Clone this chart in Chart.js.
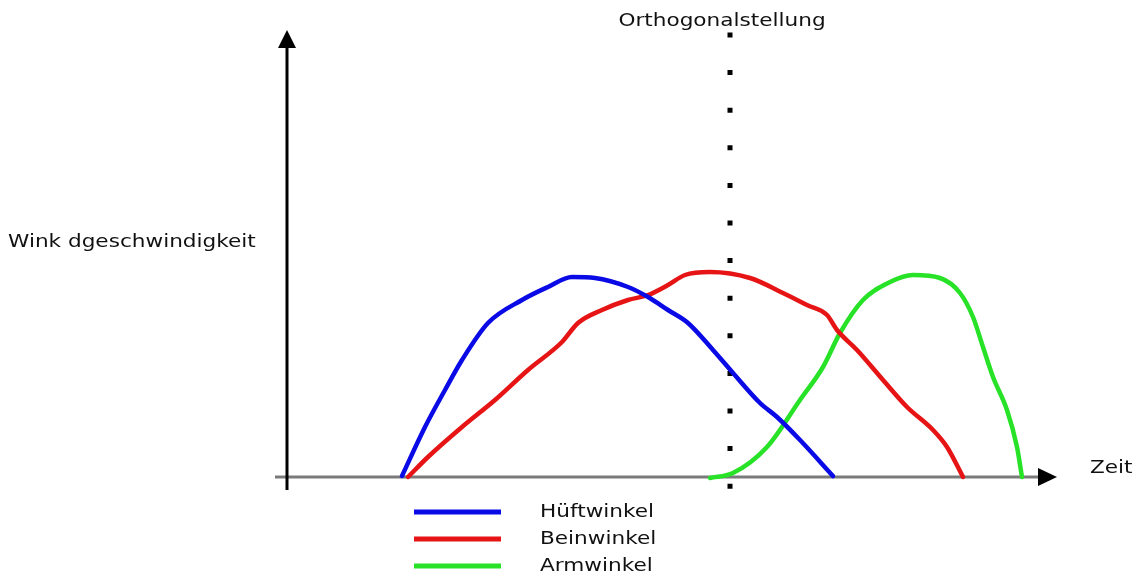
<!DOCTYPE html>
<html>
<head>
<meta charset="utf-8">
<script src="https://cdn.jsdelivr.net/npm/chart.js@4/dist/chart.umd.min.js"></script>
<style>
  html,body{margin:0;padding:0;background:#fff;}
  #c{display:block;}
</style>
</head>
<body>
<canvas id="c" width="1134" height="580"></canvas>
<script>
const SERIES_LABELS = ['Hüftwinkel', 'Beinwinkel', 'Armwinkel'];

const HIP_T = [11.5, 13.8, 15.8, 17.5, 20.1, 23.5, 26.1, 28.5, 30.8, 34.1, 36.1, 38.1, 40.1, 42.6, 44.6, 47.3, 49.0, 51.3, 54.6];
const HIP_V = [0.1, 5.0, 8.7, 11.7, 15.4, 17.7, 19.0, 20.0, 19.9, 19.0, 18.0, 16.7, 15.4, 12.7, 10.4, 7.4, 6.0, 3.7, 0.1];

const LEG_T = [12.1, 14.1, 17.5, 20.8, 24.1, 27.5, 29.1, 31.5, 34.1, 36.1, 38.1, 39.8, 42.3, 46.3, 49.6, 52.0, 54.0, 55.0, 57.0, 59.6, 62.0, 64.6, 66.0, 67.6];
const LEG_V = [0, 2.0, 5.0, 7.7, 10.7, 13.5, 15.4, 16.7, 17.7, 18.2, 19.2, 20.2, 20.5, 19.9, 18.4, 17.2, 16.2, 14.7, 12.7, 9.7, 7.0, 4.7, 3.0, 0];

const ARM_T = [42.3, 44.6, 48.0, 51.3, 53.6, 55.3, 57.6, 60.3, 62.6, 65.3, 67.3, 68.6, 69.6, 70.6, 72.0, 73.0, 73.5];
const ARM_V = [-0.1, 0.4, 3.0, 7.7, 11.0, 14.4, 17.7, 19.5, 20.2, 19.9, 18.4, 16.0, 13.0, 10.0, 6.7, 3.0, 0];

const ORTHO_T = 44.3;   // Orthogonalstellung

const COLORS = ['#0a0ae6', '#e61414', '#28e228'];

function pts(ts, vs){ return ts.map((t,i)=>({x:t, y:vs[i]})); }

const FONT = '"DejaVu Sans", sans-serif';

// Text im Original ist horizontal etwas gestreckt
function wideText(ctx, txt, x, y, align){
  const sx = 1.2;
  ctx.save();
  ctx.translate(x, y);
  ctx.scale(sx, 1);
  ctx.textAlign = align;
  ctx.fillText(txt, 0, 0);
  ctx.restore();
}

// Achsen, Pfeile, Beschriftungen und Legende
const deco = {
  id:'deco',
  beforeDatasetsDraw(chart){
    const {ctx, scales:{x, y}} = chart;
    const x0 = x.getPixelForValue(0), y0 = y.getPixelForValue(0);
    ctx.save();
    // Zeitachse (grau) + Pfeil
    ctx.strokeStyle = '#7a7a7a'; ctx.lineWidth = 3;
    ctx.beginPath();
    ctx.moveTo(x.getPixelForValue(-1.2), y0);
    ctx.lineTo(x.getPixelForValue(75.5), y0);
    ctx.stroke();
    ctx.fillStyle = '#000';
    const ax = x.getPixelForValue(77);
    ctx.beginPath();
    ctx.moveTo(ax, y0); ctx.lineTo(ax-19, y0-9); ctx.lineTo(ax-19, y0+9); ctx.closePath(); ctx.fill();
    // y-Achse + Pfeil
    ctx.strokeStyle = '#000'; ctx.lineWidth = 3;
    ctx.beginPath();
    ctx.moveTo(x0, y.getPixelForValue(-1.3));
    ctx.lineTo(x0, y.getPixelForValue(43));
    ctx.stroke();
    const ay = y.getPixelForValue(44.7);
    ctx.beginPath();
    ctx.moveTo(x0, ay); ctx.lineTo(x0-9, ay+18); ctx.lineTo(x0+9, ay+18); ctx.closePath(); ctx.fill();
    // Orthogonalstellung (gepunktet)
    const ox = x.getPixelForValue(ORTHO_T);
    ctx.lineWidth = 5; ctx.lineCap = 'butt';
    ctx.setLineDash([5, 32.6]);
    ctx.beginPath();
    ctx.moveTo(ox, y.getPixelForValue(44.45));
    ctx.lineTo(ox, y.getPixelForValue(-1.3));
    ctx.stroke();
    ctx.setLineDash([]);
    ctx.restore();
  },
  afterDatasetsDraw(chart){
    const {ctx, scales:{x, y}} = chart;
    ctx.save();
    ctx.fillStyle = '#111';
    ctx.font = '18px ' + FONT;
    ctx.textBaseline = 'middle';
    wideText(ctx, 'Orthogonalstellung', x.getPixelForValue(ORTHO_T) - 8, 21, 'center');
    wideText(ctx, 'Wink dgeschwindigkeit', 8, y.getPixelForValue(23.5), 'left');
    wideText(ctx, 'Zeit', 1090, y.getPixelForValue(0.9), 'left');
    // Legende
    const rows = [512, 539, 566];
    chart.data.datasets.forEach((ds, i)=>{
      ctx.strokeStyle = ds.borderColor; ctx.lineWidth = 5;
      ctx.beginPath(); ctx.moveTo(414, rows[i]); ctx.lineTo(501, rows[i]); ctx.stroke();
      wideText(ctx, ds.label, 540, rows[i], 'left');
    });
    ctx.restore();
  }
};

new Chart(document.getElementById('c'), {
  type:'line',
  data:{datasets:[
    {label:SERIES_LABELS[0], data:pts(HIP_T, HIP_V), borderColor:COLORS[0]},
    {label:SERIES_LABELS[1], data:pts(LEG_T, LEG_V), borderColor:COLORS[1]},
    {label:SERIES_LABELS[2], data:pts(ARM_T, ARM_V), borderColor:COLORS[2]}
  ]},
  options:{
    responsive:false, animation:false,
    layout:{padding:0},
    elements:{line:{borderWidth:4.5, cubicInterpolationMode:'monotone', fill:false, borderCapStyle:'round', borderJoinStyle:'round'}, point:{radius:0}},
    plugins:{legend:{display:false}, tooltip:{enabled:false}},
    scales:{
      x:{type:'linear', display:false, min:-28.7, max:84.7},
      y:{type:'linear', display:false, min:-10.3, max:47.7}
    }
  },
  plugins:[deco]
});
</script>
</body>
</html>
